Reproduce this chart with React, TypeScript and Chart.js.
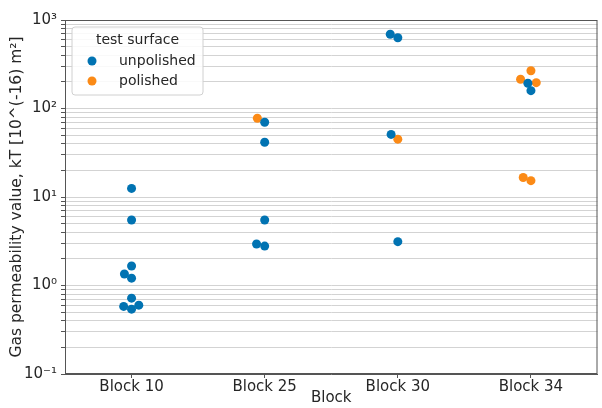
import React, { useEffect, useRef } from "react";
import { Chart, registerables } from "chart.js";

Chart.register(...registerables);

// ---- data ----
const categories = ["Block 10", "Block 25", "Block 30", "Block 34"];
const seriesNames = ["unpolished", "polished"];
const seriesColors = ["#0173b2", "#fb8a16"];

// kT values per block, by test surface
const unpolishedBlock10 = [12.5, 5.5, 1.66, 1.35, 1.21, 0.72, 0.58, 0.54, 0.6];
const unpolishedBlock25 = [70, 41.5, 5.5, 2.94, 2.79];
const unpolishedBlock30 = [690, 630, 51, 3.13];
const unpolishedBlock34 = [193, 159];
const polishedBlock10: number[] = [];
const polishedBlock25 = [77.5];
const polishedBlock30 = [45];
const polishedBlock34 = [267, 214, 196, 16.6, 15.3];

const unpolished = [unpolishedBlock10, unpolishedBlock25, unpolishedBlock30, unpolishedBlock34];
const polished = [polishedBlock10, polishedBlock25, polishedBlock30, polishedBlock34];

const yTickExponents = [-1, 0, 1, 2, 3];
const supers: Record<string, string> = { "-": "⁻", "0": "⁰", "1": "¹", "2": "²", "3": "³" };

const FONT = "'DejaVu Sans', 'Noto Sans', sans-serif";
const TEXT = "#262626";

function toPoints(groups: number[][]) {
  const pts: { x: number; y: number; cat: number }[] = [];
  groups.forEach((vals, ci) => vals.forEach((v) => pts.push({ x: ci, y: v, cat: ci })));
  return pts;
}

// seaborn-like beeswarm in pixel space
function swarm(pixYs: number[], d: number): number[] {
  const order = pixYs.map((_, i) => i).sort((a, b) => pixYs[b] - pixYs[a]);
  const placed: { x: number; y: number }[] = [];
  const out = new Array(pixYs.length).fill(0);
  for (const i of order) {
    const y = pixYs[i];
    const neighbors = placed.filter((p) => Math.abs(p.y - y) < d);
    const cands: number[] = [0];
    let leftFirst = true;
    for (const n of neighbors) {
      const dx = Math.sqrt(Math.max(d * d - (n.y - y) ** 2, 0)) * 1.05;
      if (leftFirst) cands.push(n.x - dx, n.x + dx);
      else cands.push(n.x + dx, n.x - dx);
      leftFirst = !leftFirst;
    }
    const sorted = cands
      .map((x, k) => ({ x, k }))
      .sort((a, b) => Math.abs(a.x) - Math.abs(b.x) || a.k - b.k);
    let chosen = 0;
    for (const c of sorted) {
      if (neighbors.every((n) => Math.hypot(n.x - c.x, n.y - y) >= d - 1e-6)) {
        chosen = c.x;
        break;
      }
    }
    placed.push({ x: chosen, y });
    out[i] = chosen;
  }
  return out;
}

const framePlugin = {
  id: "frameAndLegend",
  afterDraw(chart: any) {
    const ctx = chart.ctx;
    const a = chart.chartArea;
    ctx.save();
    ctx.strokeStyle = "#555555";
    ctx.lineWidth = 1;
    ctx.strokeRect(a.left + 0.5, a.top + 0.5, a.right - a.left - 1, a.bottom - a.top - 1);

    // legend box
    const x0 = a.left + 7;
    const y0 = a.top + 7;
    const w = 131;
    const h = 68;
    const r = 3;
    ctx.beginPath();
    ctx.moveTo(x0 + r, y0);
    ctx.lineTo(x0 + w - r, y0);
    ctx.quadraticCurveTo(x0 + w, y0, x0 + w, y0 + r);
    ctx.lineTo(x0 + w, y0 + h - r);
    ctx.quadraticCurveTo(x0 + w, y0 + h, x0 + w - r, y0 + h);
    ctx.lineTo(x0 + r, y0 + h);
    ctx.quadraticCurveTo(x0, y0 + h, x0, y0 + h - r);
    ctx.lineTo(x0, y0 + r);
    ctx.quadraticCurveTo(x0, y0, x0 + r, y0);
    ctx.closePath();
    ctx.fillStyle = "rgba(255,255,255,0.85)";
    ctx.fill();
    ctx.strokeStyle = "#d0d0d0";
    ctx.stroke();

    ctx.font = `14px ${FONT}`;
    ctx.fillStyle = TEXT;
    ctx.textAlign = "center";
    ctx.textBaseline = "middle";
    ctx.fillText("test surface", x0 + w / 2, y0 + 13);
    chart.data.datasets.forEach((ds: any, i: number) => {
      const cy = y0 + 34 + 20 * i;
      ctx.beginPath();
      ctx.arc(x0 + 20, cy, 4.5, 0, Math.PI * 2);
      ctx.fillStyle = ds.backgroundColor;
      ctx.fill();
      ctx.fillStyle = TEXT;
      ctx.textAlign = "left";
      ctx.fillText(ds.label, x0 + 47, cy);
    });
    ctx.restore();
  },
};

export default function App() {
  const ref = useRef<HTMLCanvasElement | null>(null);

  useEffect(() => {
    if (!ref.current) return;
    const groups = [unpolished, polished];
    const datasets = groups.map((g, si) => ({
      label: seriesNames[si],
      data: toPoints(g),
      backgroundColor: seriesColors[si],
      borderWidth: 0,
      pointRadius: 4.5,
      pointHoverRadius: 4.5,
    }));

    const yTicks: number[] = [];
    for (let e = yTickExponents[0]; e < yTickExponents[yTickExponents.length - 1]; e++) {
      for (let n = 1; n <= 9; n++) yTicks.push(n * Math.pow(10, e));
    }
    yTicks.push(Math.pow(10, yTickExponents[yTickExponents.length - 1]));
    const isPow = (v: number) => Math.abs(Math.log10(v) - Math.round(Math.log10(v))) < 1e-9;

    const chart = new Chart(ref.current, {
      type: "scatter",
      data: { datasets: datasets as any },
      options: {
        animation: false,
        responsive: false,
        events: [],
        layout: { padding: { top: 20, right: 2, left: 0, bottom: 0 } },
        plugins: { legend: { display: false }, tooltip: { enabled: false } },
        scales: {
          x: {
            type: "linear",
            min: -0.5,
            max: categories.length - 0.5,
            afterBuildTicks: (s: any) => {
              s.ticks = categories.map((_, i) => ({ value: i }));
            },
            afterFit: (s: any) => {
              s.height = 34;
            },
            ticks: {
              autoSkip: false,
              maxRotation: 0,
              padding: 0,
              color: TEXT,
              font: { family: FONT, size: 15 },
              callback: (v: any) => categories[Math.round(Number(v))] ?? "",
            },
            grid: {
              drawOnChartArea: false,
              drawTicks: true,
              tickLength: 4,
              tickColor: "#555555",
            },
            border: { display: true, color: "#555555" },
            title: {
              display: true,
              text: "Block",
              color: TEXT,
              font: { family: FONT, size: 15 },
              padding: { top: 0, bottom: 1 },
            },
          },
          y: {
            type: "logarithmic",
            min: 0.1,
            max: 1000,
            afterBuildTicks: (s: any) => {
              s.ticks = yTicks.map((v) => ({ value: v, major: isPow(v) }));
            },
            afterFit: (s: any) => {
              s.width = 65;
            },
            ticks: {
              autoSkip: false,
              padding: 4,
              color: TEXT,
              font: { family: FONT, size: 15 },
              callback: (v: any) => {
                const n = Number(v);
                if (!isPow(n)) return "";
                const e = String(Math.round(Math.log10(n)));
                return "10" + e.split("").map((c) => supers[c]).join("");
              },
            },
            grid: {
              color: "#d3d3d3",
              lineWidth: 1,
              drawTicks: true,
              tickLength: 4,
              tickColor: "#555555",
            },
            border: { display: true, color: "#555555" },
            title: {
              display: true,
              text: "Gas permeability value, kT [10^(-16) m²]",
              color: TEXT,
              font: { family: FONT, size: 15.5 },
              padding: { top: 8, bottom: 0 },
            },
          },
        },
      },
      plugins: [framePlugin],
    });

    // beeswarm placement per category using the chart's own scales
    const xs = chart.scales.x as any;
    const ys = chart.scales.y as any;
    const unit = xs.getPixelForValue(1) - xs.getPixelForValue(0);
    categories.forEach((_, ci) => {
      const refs: { ds: number; idx: number; py: number }[] = [];
      chart.data.datasets.forEach((ds: any, di: number) => {
        ds.data.forEach((p: any, pi: number) => {
          if (p.cat === ci) refs.push({ ds: di, idx: pi, py: ys.getPixelForValue(p.y) });
        });
      });
      const offs = swarm(refs.map((r) => r.py), 8);
      refs.forEach((r, k) => {
        const p = (chart.data.datasets[r.ds] as any).data[r.idx];
        p.x = ci + offs[k] / unit;
      });
    });
    chart.update("none");

    return () => chart.destroy();
  }, []);

  return (
    <div style={{ position: "absolute", left: 0, top: 0, width: 602, height: 408, background: "#fff" }}>
      <canvas ref={ref} width={602} height={408} style={{ display: "block" }} />
    </div>
  );
}
